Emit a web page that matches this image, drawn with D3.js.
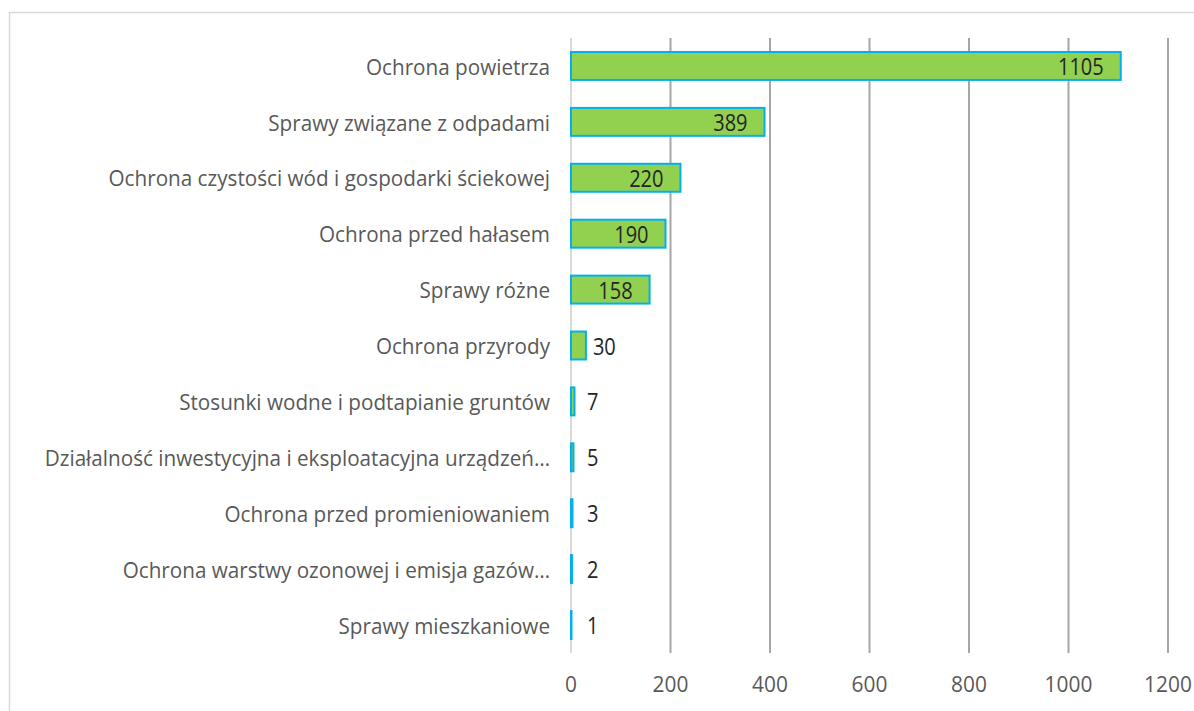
<!DOCTYPE html>
<html><head><meta charset="utf-8">
<script src="https://cdn.jsdelivr.net/npm/d3@7"></script>
<style>body{margin:0;background:#fff;} svg{display:block;}</style>
</head><body>
<svg id="c" width="1194" height="711"></svg>
<script>
const categories = [
  "Ochrona powietrza",
  "Sprawy związane z odpadami",
  "Ochrona czystości wód i gospodarki ściekowej",
  "Ochrona przed hałasem",
  "Sprawy różne",
  "Ochrona przyrody",
  "Stosunki wodne i podtapianie gruntów",
  "Działalność inwestycyjna i eksploatacyjna urządzeń…",
  "Ochrona przed promieniowaniem",
  "Ochrona warstwy ozonowej i emisja gazów…",
  "Sprawy mieszkaniowe"
];
const values = [1105, 389, 220, 190, 158, 30, 7, 5, 3, 2, 1];
const ticks = [0, 200, 400, 600, 800, 1000, 1200];

const svg = d3.select("#c");
const font = "'Open Sans', sans-serif";
svg.append("rect").attr("x", 9.5).attr("y", 12.5).attr("width", 1200).attr("height", 720)
  .attr("fill", "#fff").attr("stroke", "#d9d9d9").attr("stroke-width", 1.5);

const x = d3.scaleLinear().domain([0, 1200]).range([571, 1168]);
const y = d3.scaleBand().domain(categories).range([38, 653]).paddingInner(0.5).paddingOuter(0.25);

// gridlines
svg.append("g").selectAll("line").data(ticks).join("line")
  .attr("x1", d => x(d)).attr("x2", d => x(d))
  .attr("y1", 38).attr("y2", 653)
  .attr("stroke", d => d === 0 ? "#d9d9d9" : "#a6a6a6").attr("stroke-width", 2);

// tick labels
svg.append("g").selectAll("text").data(ticks).join("text")
  .attr("transform", d => `translate(${x(d)},692) scale(0.95,1)`)
  .attr("text-anchor", "middle")
  .attr("font-family", font).attr("font-size", 22).attr("fill", "#595959")
  .text(d => d);

// bars
svg.append("g").selectAll("rect").data(values).join("rect")
  .attr("x", x(0)).attr("y", (d, i) => y(categories[i]))
  .attr("width", d => Math.max(x(d) - x(0), 0.5)).attr("height", y.bandwidth())
  .attr("fill", "#92d050").attr("stroke", "#00b0f0").attr("stroke-width", 2);

// category labels
svg.append("g").selectAll("text").data(categories).join("text")
  .attr("transform", d => `translate(550,${y(d) + y.bandwidth() / 2 + 1}) scale(0.94,1)`)
  .attr("dy", "0.35em")
  .attr("text-anchor", "end").attr("font-family", font).attr("font-size", 22).attr("fill", "#595959")
  .text(d => d);

// value labels
svg.append("g").selectAll("text").data(values).join("text")
  .attr("transform", (d, i) => {
    const tx = d >= 100 ? x(d) - 17 : Math.max(x(d) + 7, x(0) + 16);
    return `translate(${tx},${y(categories[i]) + y.bandwidth() / 2 + 1}) scale(0.87,1)`;
  })
  .attr("dy", "0.35em")
  .attr("text-anchor", d => d >= 100 ? "end" : "start")
  .attr("font-family", font).attr("font-size", 23).attr("fill", "#262626")
  .text(d => d);
</script>
</body></html>
